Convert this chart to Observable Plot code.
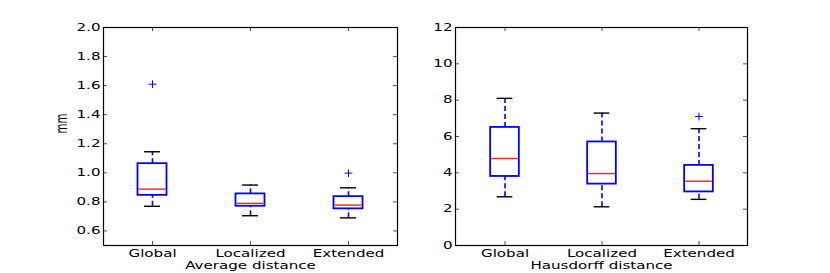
<!DOCTYPE html>
<html>
<head>
<meta charset="utf-8">
<script src="https://cdn.jsdelivr.net/npm/d3@7"></script>
<script src="https://cdn.jsdelivr.net/npm/@observablehq/plot@0.6"></script>
<style>
  body { margin: 0; background: #fff; }
  #wrap { position: relative; width: 830px; height: 273px; background: #fff; overflow: hidden; }
  #wrap > div { position: absolute; top: 0; }
</style>
</head>
<body>
<div id="wrap"><div id="left" style="left:0px"></div><div id="right" style="left:410px"></div></div>
<script>
// ---- data ----
const categories = ["Global", "Localized", "Extended"];

// Average distance (mm)
const avgLowerCap = [0.770, 0.705, 0.690];
const avgQ1       = [0.845, 0.770, 0.752];
const avgMedian   = [0.888, 0.790, 0.778];
const avgQ3       = [1.063, 0.855, 0.836];
const avgUpperCap = [1.145, 0.916, 0.897];
const avgOutliers = [[1.61], [], [0.998]];
const avgTicks    = [0.6, 0.8, 1.0, 1.2, 1.4, 1.6, 1.8, 2.0];

// Hausdorff distance (mm)
const hdLowerCap = [2.68, 2.13, 2.54];
const hdQ1       = [3.80, 3.38, 2.95];
const hdMedian   = [4.79, 3.96, 3.54];
const hdQ3       = [6.50, 5.70, 4.41];
const hdUpperCap = [8.10, 7.29, 6.43];
const hdOutliers = [[], [], [7.10]];
const hdTicks    = [0, 2, 4, 6, 8, 10, 12];

const STRETCH = 1.48;

function boxPanel({lower, q1, med, q3, upper, outliers, ticks, yDomain, fmt, xLabel, yLabel, width, marginLeft, marginRight}) {
  const rows = categories.map((c, i) => ({cat: c, lower: lower[i], q1: q1[i], med: med[i], q3: q3[i], upper: upper[i]}));
  const outs = categories.flatMap((c, i) => outliers[i].map(v => ({cat: c, v})));
  const height = 273, marginTop = 27, marginBottom = 28;
  const fw = width - marginLeft - marginRight;
  const fh = height - marginTop - marginBottom;
  const band = fw / categories.length;
  const boxInset = (band - 29) / 2;
  const capInset = (band - 16) / 2;
  const marks = [
    Plot.ruleX(rows, {x: "cat", y1: "q3", y2: "upper", stroke: "#0000ff", strokeWidth: 1.6, strokeDasharray: "5,3"}),
    Plot.ruleX(rows, {x: "cat", y1: "lower", y2: "q1", stroke: "#0000ff", strokeWidth: 1.6, strokeDasharray: "5,3"}),
    Plot.tickY(rows, {x: "cat", y: "upper", stroke: "#000", strokeWidth: 1.4, insetLeft: capInset, insetRight: capInset}),
    Plot.tickY(rows, {x: "cat", y: "lower", stroke: "#000", strokeWidth: 1.4, insetLeft: capInset, insetRight: capInset}),
    Plot.barY(rows, {x: "cat", y1: "q1", y2: "q3", fill: "#fff", stroke: "#0000ff", strokeWidth: 1.8, insetLeft: boxInset, insetRight: boxInset}),
    Plot.tickY(rows, {x: "cat", y: "med", stroke: "#ff2020", strokeWidth: 1.4, insetLeft: boxInset + 1, insetRight: boxInset + 1}),
    Plot.dot(outs, {x: "cat", y: "v", symbol: "plus", stroke: "#0000ff", strokeWidth: 1, r: 2.6}),
    // inward ticks on all four sides
    Plot.tickY(ticks, {y: d => d, stroke: "#555", strokeWidth: 1, insetRight: fw - 4}),
    Plot.tickY(ticks, {y: d => d, stroke: "#555", strokeWidth: 1, insetLeft: fw - 4}),
    Plot.tickX(categories, {x: d => d, stroke: "#555", strokeWidth: 1, insetTop: fh - 4}),
    Plot.tickX(categories, {x: d => d, stroke: "#555", strokeWidth: 1, insetBottom: fh - 4}),
    Plot.frame({stroke: "#000", strokeWidth: 1.2}),
    Plot.axisY(ticks, {tickSize: 0, tickPadding: 3, tickFormat: fmt, label: null, fill: "#000"}),
    Plot.axisX({tickSize: 0, tickPadding: 4, label: null, fill: "#000"}),
    Plot.text([xLabel], {frameAnchor: "bottom", lineAnchor: "top", dy: 16.5, fill: "#000"})
  ];
  if (yLabel) marks.push(Plot.text([yLabel], {frameAnchor: "left", dx: -41, dy: -3, rotate: -90, fill: "#000"}));
  const svg = Plot.plot({
    width, height, marginLeft, marginRight, marginTop, marginBottom,
    style: {fontFamily: "'DejaVu Sans', sans-serif", fontSize: "10.2px", background: "transparent", color: "#000"},
    x: {type: "band", domain: categories, padding: 0, axis: null},
    y: {domain: yDomain, axis: null},
    marks
  });
  // the reference's text is horizontally stretched
  svg.querySelectorAll("text").forEach(t => {
    const tr = t.getAttribute("transform");
    if (tr && /translate\(/.test(tr)) {
      t.setAttribute("transform", tr.replace(/translate\([^)]*\)/, m => m + ` scale(${STRETCH},1)`));
    } else {
      const x = +(t.getAttribute("x") || 0), y = +(t.getAttribute("y") || 0);
      t.removeAttribute("x"); t.removeAttribute("y");
      t.setAttribute("transform", `translate(${x},${y}) scale(${STRETCH},1)` + (tr ? " " + tr : ""));
    }
  });
  return svg;
}

document.getElementById("left").appendChild(boxPanel({
  lower: avgLowerCap, q1: avgQ1, med: avgMedian, q3: avgQ3, upper: avgUpperCap, outliers: avgOutliers,
  ticks: avgTicks, yDomain: [0.5, 2.0], fmt: d3.format(".1f"),
  xLabel: "Average distance", yLabel: "mm", width: 410, marginLeft: 103, marginRight: 13
}));
document.getElementById("right").appendChild(boxPanel({
  lower: hdLowerCap, q1: hdQ1, med: hdMedian, q3: hdQ3, upper: hdUpperCap, outliers: hdOutliers,
  ticks: hdTicks, yDomain: [0, 12], fmt: d3.format("d"),
  xLabel: "Hausdorff distance", yLabel: null, width: 420, marginLeft: 45, marginRight: 83
}));
</script>
</body>
</html>
